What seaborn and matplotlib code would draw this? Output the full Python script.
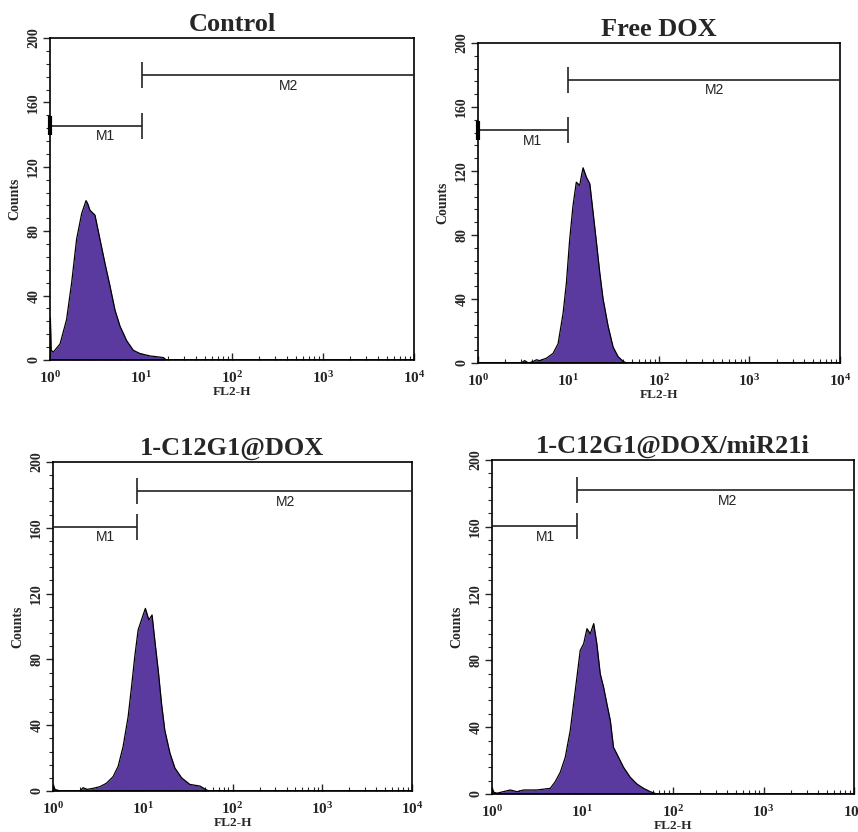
import numpy as np
import pandas as pd
import matplotlib
matplotlib.use("Agg")
import matplotlib.pyplot as plt
import seaborn as sns
from matplotlib.ticker import FixedLocator, FixedFormatter, NullFormatter

sns.set_style("ticks")
plt.rcParams['font.family'] = ['Liberation Serif', 'DejaVu Serif']
plt.rcParams['mathtext.fontset'] = 'custom'
plt.rcParams['mathtext.rm'] = 'Liberation Serif'
plt.rcParams['mathtext.bf'] = 'Liberation Serif:bold'

# ---------------- data ----------------
titles = ["Control", "Free DOX", "1-C12G1@DOX", "1-C12G1@DOX/miR21i"]

control_x = [1.0, 1.01, 1.03, 1.09, 1.29, 1.52, 1.73, 1.96, 2.23, 2.49, 2.6, 2.75, 3.12,
             3.54, 4.02, 4.56, 5.18, 5.88, 6.96, 8.24, 9.75, 12.6, 15.0, 17.6, 19.0, 20.0]
control_y = [0, 26, 6, 5, 10, 25, 48, 75, 91, 99, 97, 93, 90,
             75, 60, 46, 31, 21, 12, 6, 4, 2.5, 2, 1.5, 0, 0]

freedox_x = [1.0, 3.0, 3.28, 3.6, 4.1, 4.42, 4.8, 5.70, 6.75, 7.67, 8.71, 9.48, 10.3, 11.2,
             12.2, 13.3, 14.0, 14.5, 15.8, 17.2, 18.7, 20.4, 22.2, 24.1, 27.4, 31.1,
             35.3, 40.2, 43.7]
freedox_y = [0, 0, 1.5, 0, 1, 2, 1.5, 3, 6, 12, 31, 50, 77, 98,
             113, 111, 118, 122, 116, 112, 94, 75, 56, 40, 23, 10,
             4, 1, 0]

c12_x = [1.0, 1.02, 1.05, 1.2, 2.0, 2.16, 2.4, 2.80, 3.32, 3.94, 4.67, 5.32, 6.04, 6.87,
         7.49, 8.16, 8.89, 9.68, 10.7, 11.7, 12.7, 13.6, 14.9, 16.2, 17.6,
         20.1, 22.8, 27.1, 33.5, 43.4, 51.5, 55.0]
c12_y = [0, 3, 1, 0, 0, 2, 1, 1.6, 2.6, 4.7, 8.7, 15, 27, 45,
         63, 82, 98, 104, 111, 104, 107, 92, 73, 53, 37,
         23, 14, 8, 4, 3, 0.6, 0]

mir_x = [1.0, 1.01, 1.05, 1.14, 1.59, 1.89, 2.24, 3.14, 4.41, 5.00, 5.68, 6.45, 7.32,
         7.97, 8.68, 9.44, 10.3, 11.2, 12.2, 13.3, 14.4, 15.7, 17.1, 18.6,
         20.3, 22.0, 25.0, 28.4, 33.7, 39.9, 47.2, 56.0, 66.3]
mir_y = [0, 3, 1, 0.5, 2.4, 1.4, 2.4, 2.4, 3.4, 7.4, 13, 22, 38,
         54, 70, 86, 90, 99, 96, 102, 90, 72, 64, 54,
         44, 28, 22, 16, 10, 6, 3.4, 1.4, 0]

series_x = [control_x, freedox_x, c12_x, mir_x]
series_y = [control_y, freedox_y, c12_y, mir_y]

# marker gates
m1_end = [10.2, 9.9, 8.7, 8.75]
m1_level = [145.5, 145.5, 160.5, 160.5]
m2_level = [177, 176.7, 182.4, 182]
m_start = 1.0
m_stop = 1e4

xtick_vals = [1, 10, 100, 1000, 10000]
xtick_labels = [r'$\mathbf{10^{0}}$', r'$\mathbf{10^{1}}$', r'$\mathbf{10^{2}}$',
                r'$\mathbf{10^{3}}$', r'$\mathbf{10^{4}}$']
ytick_vals = [0, 40, 80, 120, 160, 200]

# ---------------- layout ----------------
W, H = 858, 832
boxes = [(50, 38, 414, 360), (478, 43, 840, 363), (53, 462, 412, 791), (492, 460, 854, 794)]
m1_label_pos = [(4.1, 139), (4.0, 139), (3.87, 154.5), (3.88, 154)]
m2_label_pos = [(417, 170), (415, 170.5), (395, 175.7), (403, 175.6)]
left_tick = [True, True, False, False]

fig = plt.figure(figsize=(W / 100, H / 100), dpi=100)
fill_color = '#5a3a9e'

for i in range(4):
    l, t, r, b = boxes[i]
    ax = fig.add_axes([l / W, (H - b) / H, (r - l) / W, (b - t) / H])
    df = pd.DataFrame({'FL2-H': series_x[i], 'Counts': series_y[i]})
    ax.fill_between(df['FL2-H'], 0, df['Counts'], color=fill_color, lw=0, zorder=2)
    sns.lineplot(data=df, x='FL2-H', y='Counts', ax=ax, color='black', lw=0.9,
                 sort=False, estimator=None, zorder=3)
    ax.set_xscale('log')
    ax.set_xlim(1, 1e4)
    ax.set_ylim(0, 200)
    ax.axhline(0, color='black', lw=2.0, zorder=4)

    # gates
    ax.hlines(m1_level[i], m_start, m1_end[i], color='#222222', lw=1.2, zorder=5)
    ax.vlines(m1_end[i], m1_level[i] - 8, m1_level[i] + 8, color='#222222', lw=1.2, zorder=5)
    ax.hlines(m2_level[i], m1_end[i], m_stop, color='#222222', lw=1.2, zorder=5)
    ax.vlines(m1_end[i], m2_level[i] - 8, m2_level[i] + 8, color='#222222', lw=1.2, zorder=5)
    if left_tick[i]:
        ax.vlines(m_start, m1_level[i] - 6, m1_level[i] + 6, color='black', lw=3, zorder=6,
                  clip_on=False)
    ax.text(m1_label_pos[i][0], m1_label_pos[i][1], 'M1', family='Liberation Sans',
            fontsize=10, ha='center', va='center', color='#222222')
    ax.text(m2_label_pos[i][0], m2_label_pos[i][1], 'M2', family='Liberation Sans',
            fontsize=10, ha='center', va='center', color='#222222')

    # ticks
    ax.xaxis.set_major_locator(FixedLocator(xtick_vals))
    ax.xaxis.set_major_formatter(FixedFormatter(xtick_labels))
    ax.xaxis.set_minor_formatter(NullFormatter())
    ax.tick_params(axis='x', which='major', direction='in', length=5, width=1,
                   labelsize=11, pad=7)
    ax.tick_params(axis='x', which='minor', direction='in', length=3, width=0.8)
    ax.yaxis.set_major_locator(FixedLocator(ytick_vals))
    ax.yaxis.set_minor_locator(FixedLocator(np.arange(0, 201, 8)))
    ax.tick_params(axis='y', which='major', direction='out', length=5, width=1,
                   labelsize=10, pad=2)
    ax.tick_params(axis='y', which='minor', direction='out', length=3, width=0.8)
    for lab in ax.get_yticklabels():
        lab.set_rotation(90)
        lab.set_va('center')
        lab.set_fontweight('bold')
    for sp in ax.spines.values():
        sp.set_visible(True)
        sp.set_linewidth(1.2)
        sp.set_color('black')

    ax.set_xlabel('FL2-H', fontsize=9.5, fontweight='bold', labelpad=0)
    ax.set_ylabel('Counts', fontsize=10, fontweight='bold', labelpad=4)
    ax.set_title(titles[i], fontsize=19, fontweight='bold', pad=5)

fig.savefig('out.png', dpi=100, facecolor='white')
